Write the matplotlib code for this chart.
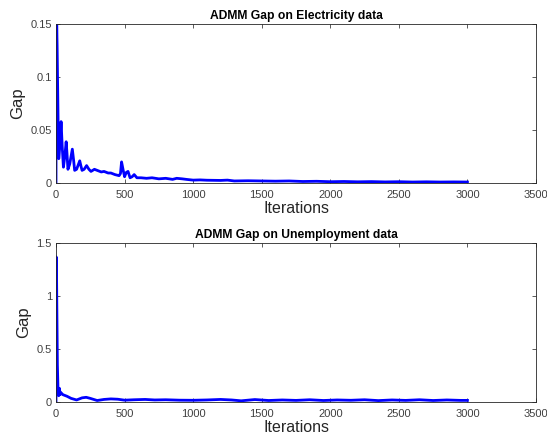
import matplotlib
matplotlib.use("Agg")
from matplotlib import pyplot as plt
import numpy as np

# ADMM gap, electricity data
elec_iter = [0, 1, 3, 5, 8, 12, 16, 20, 28, 37, 45, 54, 64, 74, 80, 87, 100, 119, 128, 136,
             150, 173, 182, 190, 205, 223, 240, 255, 280, 300, 330, 350, 380, 400, 430,
             460, 470, 478, 490, 500, 512, 525, 540, 555, 570, 590, 620, 660, 700, 750,
             800, 850, 880, 920, 950, 1000, 1050, 1100, 1200, 1250, 1300, 1400, 1500,
             1600, 1700, 1800, 1900, 2000, 2100, 2200, 2300, 2400, 2500, 2600, 2700,
             2800, 2900, 3000]
elec_gap = [0.0, 0.12, 0.11, 0.15, 0.13, 0.09, 0.05, 0.023, 0.035, 0.058, 0.035, 0.015,
            0.025, 0.039, 0.028, 0.013, 0.018, 0.032, 0.022, 0.012, 0.013, 0.021, 0.016,
            0.012, 0.013, 0.0165, 0.013, 0.011, 0.013, 0.012, 0.0105, 0.011, 0.0095,
            0.0095, 0.008, 0.007, 0.009, 0.02, 0.012, 0.006, 0.01, 0.011, 0.005, 0.006,
            0.008, 0.005, 0.005, 0.0045, 0.005, 0.004, 0.0045, 0.0035, 0.0045, 0.004,
            0.0035, 0.0028, 0.003, 0.0027, 0.0025, 0.0028, 0.002, 0.0022, 0.002, 0.0018,
            0.002, 0.0015, 0.0017, 0.0013, 0.0015, 0.0012, 0.0014, 0.0011, 0.0013,
            0.001, 0.0012, 0.001, 0.0011, 0.001]

# ADMM gap, unemployment data
unemp_iter = [0, 1, 3, 6, 10, 15, 20, 25, 30, 35, 50, 80, 110, 150, 190, 220, 250, 300,
              350, 400, 450, 500, 570, 650, 720, 800, 900, 1000, 1100, 1200, 1280, 1350,
              1450, 1550, 1650, 1750, 1850, 1950, 2050, 2150, 2250, 2350, 2450, 2550,
              2650, 2750, 2850, 2950, 3000]
unemp_gap = [0.0, 1.37, 1.36, 0.9, 0.35, 0.1, 0.06, 0.13, 0.07, 0.09, 0.07, 0.055, 0.035,
             0.02, 0.04, 0.045, 0.035, 0.015, 0.025, 0.03, 0.027, 0.018, 0.022, 0.025,
             0.02, 0.022, 0.018, 0.017, 0.02, 0.025, 0.02, 0.012, 0.024, 0.015, 0.02,
             0.016, 0.022, 0.015, 0.02, 0.017, 0.022, 0.014, 0.02, 0.016, 0.022, 0.015,
             0.02, 0.016, 0.016]

plt.rcParams['font.family'] = ['Liberation Sans', 'DejaVu Sans']

fig = plt.figure(figsize=(5.47, 4.38), dpi=100)
ax1 = fig.add_axes([0.1024, 0.582, 0.8775, 0.363])
ax2 = fig.add_axes([0.1024, 0.082, 0.8775, 0.363])

panels = [(ax1, elec_iter, elec_gap, 'ADMM Gap on Electricity data', [0, 0.05, 0.1, 0.15], 0.15),
          (ax2, unemp_iter, unemp_gap, 'ADMM Gap on Unemployment data', [0, 0.5, 1, 1.5], 1.5)]

for ax, xs, ys, title, yt, ytop in panels:
  ax.plot(xs, ys, color=(0, 0, 1), linewidth=2)
  ax.set_xlim(0, 3500)
  ax.set_ylim(0, ytop)
  ax.set_xticks(np.arange(0, 3501, 500))
  ax.set_yticks(yt)
  ax.set_yticklabels([('%g' % v) for v in yt])
  ax.set_title(title, fontsize=8.7, fontweight='bold', pad=4)
  ax.set_xlabel('Iterations', fontsize=11.5, color='#262626', labelpad=1)
  ax.set_ylabel('Gap', fontsize=12, color='#262626', labelpad=4)
  ax.tick_params(direction='in', top=True, right=True, length=3, width=0.6,
                 labelsize=8, colors='#404040', pad=3)
  ax.tick_params(axis='x', pad=5)
  for s in ax.spines.values():
    s.set_linewidth(0.6)
    s.set_color('#262626')

fig.savefig('out.png', dpi=100)
